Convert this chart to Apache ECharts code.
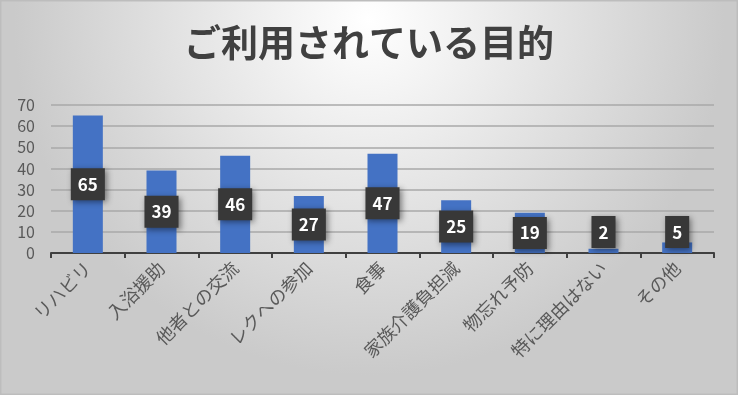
<!DOCTYPE html>
<html><head><meta charset="utf-8">
<script src="https://cdn.jsdelivr.net/npm/echarts@6/dist/echarts.min.js"></script>
<style>html,body{margin:0;padding:0;}#c{width:738px;height:395px;}</style>
</head><body><div id="c"></div>
<script>
const titleText = 'ご利用されている目的';
const categories = ['リハビリ','入浴援助','他者との交流','レクへの参加','食事','家族介護負担減','物忘れ予防','特に理由はない','その他'];
const values = [65, 39, 46, 27, 47, 25, 19, 2, 5];
const yTicks = [0, 10, 20, 30, 40, 50, 60, 70];

const font = '"Noto Sans CJK JP", "Noto Sans", sans-serif';
const chart = echarts.init(document.getElementById('c'), null, {renderer: 'canvas'});
const labelStyle = {
  show: true,
  color: '#ffffff',
  fontFamily: font,
  fontWeight: 'bold',
  fontSize: 17,
  lineHeight: 17,
  backgroundColor: '#383838',
  padding: [8, 7, 7, 7],
  shadowColor: 'rgba(0,0,0,0.45)',
  shadowBlur: 6,
  shadowOffsetX: 2,
  shadowOffsetY: 2
};
const data = values.map(v => v < 15
  ? {value: v, label: Object.assign({}, labelStyle, {position: 'insideBottom', distance: 5})}
  : {value: v});

chart.setOption({
  backgroundColor: {
    type: 'radial', x: 0.5, y: 0.05, r: 0.9,
    colorStops: [{offset: 0, color: '#ffffff'}, {offset: 1, color: '#cacaca'}]
  },
  title: {
    text: titleText, left: 'center', top: 19,
    textStyle: {fontFamily: font, fontWeight: 'bold', fontSize: 37, color: '#404040'}
  },
  graphic: [{type: 'rect', shape: {x: 0.5, y: 0.5, width: 737, height: 394},
    style: {fill: 'none', stroke: '#bdbdbd', lineWidth: 2}, silent: true}],
  grid: {left: 51, right: 24, top: 105, bottom: 142, containLabel: false},
  xAxis: {
    type: 'category', data: categories,
    axisLine: {lineStyle: {color: '#404040', width: 2}},
    axisTick: {show: true, alignWithLabel: false, length: 5, lineStyle: {color: '#404040', width: 2}},
    axisLabel: {rotate: 45, fontFamily: font, fontSize: 18, color: '#595959', margin: 12, interval: 0}
  },
  yAxis: {
    type: 'value', min: yTicks[0], max: yTicks[yTicks.length - 1], interval: 10,
    axisLine: {show: false}, axisTick: {show: false},
    axisLabel: {fontFamily: font, fontSize: 16, color: '#595959', margin: 16},
    splitLine: {lineStyle: {color: '#a8a8a8', width: 1.5}}
  },
  series: [{
    type: 'bar', data: data, barWidth: 30,
    itemStyle: {color: '#4472C4'},
    label: Object.assign({position: 'inside'}, labelStyle)
  }]
});
</script></body></html>
